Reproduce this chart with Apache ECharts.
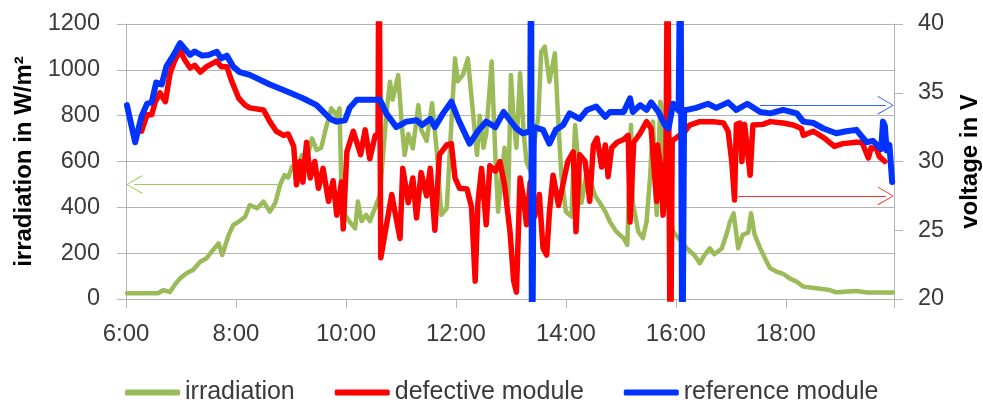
<!DOCTYPE html>
<html>
<head>
<meta charset="utf-8">
<script src="https://cdn.jsdelivr.net/npm/echarts@6/dist/echarts.min.js"></script>
<style>
    html, body { margin: 0; padding: 0; background: #fff; }
    #chart { width: 983px; height: 400px; }
</style>
</head>
<body>
<div id="chart"></div>
<script>
    // time in minutes after midnight
    const tickLabels = ['6:00', '8:00', '10:00', '12:00', '14:00', '16:00', '18:00'];

    // irradiation in W/m2 (left axis)
    const irrTime = [361,395,401,408,413,419,426,433,441,448,455,461,465,472,477,484,490,495,503,510,
        517,523,528,533,537,541,546,552,557,563,568,573,579,584,590,593,595,599,604,610,
        613,617,622,626,632,637,644,648,651,657,661,664,668,673,679,682,688,694,699,704,
        710,713,719,722,728,733,737,743,746,750,753,759,763,766,770,773,777,780,783,786,
        790,794,797,801,810,813,817,822,828,831,835,840,846,850,853,857,863,866,872,877,
        883,888,895,903,907,911,913,919,924,928,932,935,939,943,944,948,957,972,980,986,
        991,997,1002,1010,1015,1019,1023,1028,1033,1039,1042,1046,1052,1059,1063,1070,1077,1084,1092,1099,
        1113,1128,1135,1157,1168,1197];
    const irrValue = [25,25,39,30,61,90,112,127,163,178,214,243,192,279,323,340,359,410,396,425,
        381,420,497,541,530,577,560,628,600,701,650,660,759,832,800,832,483,367,337,308,
        425,340,367,340,400,454,803,948,870,977,759,628,720,657,846,740,690,854,650,367,
        396,620,1050,950,980,1050,880,628,800,660,720,1036,628,381,540,660,430,977,780,660,
        985,720,599,560,800,1079,1101,948,1072,830,541,381,360,759,620,420,560,520,450,420,
        381,337,294,265,236,759,420,294,265,337,541,774,367,861,840,512,294,221,192,156,
        190,221,195,220,279,337,374,221,280,290,374,280,221,163,134,119,110,90,75,54,
        47,39,29,35,28,28];

    // defective module voltage in V (right axis)
    const defTime = [377,383,388,392,397,403,408,413,419,424,430,435,441,448,459,464,470,475,483,490,
        495,510,517,524,532,537,543,546,550,553,557,561,566,570,575,581,586,590,595,597,
        601,608,616,621,626,632,635,636,638,650,653,659,662,668,673,677,682,688,692,697,
        702,710,715,719,724,732,737,741,744,748,753,757,763,768,773,779,783,786,790,794,
        797,801,806,811,815,819,822,826,832,837,842,848,851,855,861,866,870,874,879,883,
        886,890,896,903,908,910,914,921,928,933,937,939,940,943,946,949,951,954,956,970,
        975,986,1001,1012,1017,1021,1024,1026,1030,1032,1035,1041,1044,1055,1063,1077,1088,1097,1099,1110,
        1122,1133,1142,1157,1163,1170,1173,1179,1182,1188];
    const defValue = [32.2,33.4,33.4,34.35,35.0,34.35,36.4,37.3,38.1,37.4,36.8,37.0,36.5,36.9,37.3,36.9,36.9,35.9,34.6,34.1,
        33.9,33.75,32.9,32.2,31.9,32.0,31.1,28.3,30.0,28.5,31.4,28.8,30.0,28.05,29.5,27.1,28.6,26.1,28.5,25.1,
        30.7,32.2,30.5,32.3,30.2,31.9,32,48,23.0,27.6,26.5,24.4,29.5,27.0,28.8,25.9,29.2,27.5,29.5,25.0,
        30.5,31.2,31.3,28.8,28.05,28.0,26.7,21.3,27.0,29.5,25.4,29.7,29.3,30.0,28.3,24.9,21.3,20.5,28.8,27.2,
        25.4,28.5,26.0,27.6,23.7,23.2,26.3,29.0,26.8,28.4,30.0,30.7,24.9,30.5,30.0,27.1,31.2,31.7,29.6,31.2,
        28.9,31.0,31.4,31.6,31.9,25.6,31.4,32.05,32.9,32.4,28.8,27.1,31.2,29.9,26.1,28.5,48,12,31.5,32.2,
        32.65,32.9,32.9,32.8,32.2,30.0,27.2,32.7,32.8,30.0,32.7,29.0,32.65,32.7,32.9,32.8,32.65,32.4,31.9,32.2,
        31.7,31.1,31.3,31.4,31.4,30.25,31.0,30.9,30.35,30.0];

    // reference module voltage in V (right axis)
    const refTime = [361,370,377,383,388,393,399,404,412,419,424,430,435,443,450,459,464,470,477,484,
        495,517,539,553,568,583,590,599,604,612,626,637,644,655,666,677,683,692,697,706,
        715,723,735,744,753,763,772,779,786,793,801,802,803,805,807,815,822,829,837,844,
        855,863,873,883,888,903,910,913,921,928,933,941,948,952,957,963,965,967,969,972,
        982,995,1004,1017,1026,1038,1052,1063,1077,1092,1099,1110,1121,1135,1146,1157,1168,1175,1184,1186,
        1188,1190,1193,1196];
    const refValue = [34.1,31.4,33.3,34.2,34.3,35.75,35.6,36.9,37.75,38.6,38.2,37.75,38.0,37.7,37.75,37.98,37.5,37.7,36.9,36.5,
        36.3,35.6,35.0,34.6,34.1,33.1,32.9,33.0,33.9,34.5,34.5,34.5,33.5,32.5,32.9,33.0,32.65,33.1,32.5,33.5,
        34.35,33.0,31.3,32.2,32.9,32.5,33.6,33.0,32.4,32.05,32.2,48,12,32.5,32.5,32.3,31.3,32.3,32.65,33.5,
        33.1,33.75,34.0,33.25,33.6,33.6,34.6,33.6,34.1,33.75,34.3,33.6,32.65,32.4,34.2,33.7,48,12,33.75,33.75,
        33.9,34.2,33.9,34.3,33.75,34.2,33.6,33.5,33.75,33.5,32.9,32.8,32.4,32.05,32.2,32.3,31.4,31.5,30.9,32.9,
        32.6,30.8,31.2,28.5];

    // arrows: [from time, to time, level]; the head sits centred on the end point
    const irrArrow = [530, 369, 500];
    const defArrow = [1028, 1189, 27.5];
    const refArrow = [1052, 1189, 34.1];

    const font = 'Liberation Sans';
    const gridColor = '#b4b4b4';
    const textColor = '#3a3a3a';
    const chevron = 'path://M10,0 L20,17 L18.7,17 L10,1.6 L1.3,17 L0,17 Z';

    function pairs(t, v) {
        return t.map((x, i) => [x, v[i]]);
    }

    function arrow(a, color) {
        return {
            silent: true,
            animation: false,
            symbol: ['none', chevron],
            symbolSize: [19, 16],
            label: {show: false},
            lineStyle: {color: color, width: 1, type: 'solid'},
            data: [[{coord: [a[0], a[2]]}, {coord: [a[1], a[2]]}]]
        };
    }

    let myChart = echarts.init(document.getElementById('chart'));
    let option = {
        animation: false,
        backgroundColor: '#fff',
        textStyle: {fontFamily: font},
        grid: {left: 126, right: 89, top: 24, bottom: 101, containLabel: false, outerBoundsMode: 'none'},
        legend: {
            left: 120,
            top: 375,
            icon: 'roundRect',
            itemWidth: 55,
            itemHeight: 6,
            itemGap: 40,
            textStyle: {fontSize: 25, color: textColor, fontFamily: font},
            data: ['irradiation', 'defective module', 'reference module']
        },
        xAxis: {
            type: 'value',
            min: 360,
            max: 1198,
            interval: 120,
            axisLine: {show: true, lineStyle: {color: gridColor}},
            axisTick: {show: true, length: 9, lineStyle: {color: gridColor}},
            splitLine: {show: false},
            axisLabel: {
                fontSize: 24, color: textColor, margin: 23, fontFamily: font,
                formatter: v => (v % 120 === 0 ? tickLabels[(v - 360) / 120] : '')
            }
        },
        yAxis: [{
            type: 'value',
            min: 0,
            max: 1200,
            interval: 200,
            name: 'irradiation in W/m²',
            nameLocation: 'middle',
            nameRotate: 90,
            nameGap: 89,
            nameTextStyle: {fontSize: 24, fontWeight: 'bold', color: '#000', fontFamily: font},
            axisLine: {show: true, lineStyle: {color: gridColor}},
            axisTick: {show: true, length: 9, lineStyle: {color: gridColor}},
            splitLine: {show: true, lineStyle: {color: gridColor, width: 1}},
            axisLabel: {fontSize: 23.5, color: textColor, margin: 26, fontFamily: font, formatter: v => String(v)}
        }, {
            type: 'value',
            position: 'right',
            min: 20,
            max: 40,
            interval: 5,
            name: 'voltage in V',
            nameLocation: 'middle',
            nameRotate: 90,
            nameGap: 64,
            nameTextStyle: {fontSize: 24, fontWeight: 'bold', color: '#000', fontFamily: font},
            axisLine: {show: true, lineStyle: {color: gridColor}},
            axisTick: {show: true, length: 9, lineStyle: {color: gridColor}},
            splitLine: {show: false},
            axisLabel: {fontSize: 23.5, color: textColor, margin: 24, fontFamily: font, formatter: v => String(v)}
        }],
        series: [{
            name: 'irradiation',
            type: 'line',
            yAxisIndex: 0,
            symbol: 'none',
            color: '#9bbb59',
            lineStyle: {width: 4.5, color: '#9bbb59', cap: 'round', join: 'round'},
            data: pairs(irrTime, irrValue),
            markLine: arrow(irrArrow, '#92d050')
        }, {
            name: 'defective module',
            type: 'line',
            yAxisIndex: 1,
            symbol: 'none',
            color: '#ff0000',
            lineStyle: {width: 5.5, color: '#ff0000', cap: 'round', join: 'round'},
            data: pairs(defTime, defValue),
            markLine: arrow(defArrow, '#ff3030')
        }, {
            name: 'reference module',
            type: 'line',
            yAxisIndex: 1,
            symbol: 'none',
            color: '#0033ff',
            lineStyle: {width: 6, color: '#0033ff', cap: 'round', join: 'round'},
            data: pairs(refTime, refValue),
            markLine: arrow(refArrow, '#3060ff')
        }]
    };
    myChart.setOption(option);
</script>
</body>
</html>
